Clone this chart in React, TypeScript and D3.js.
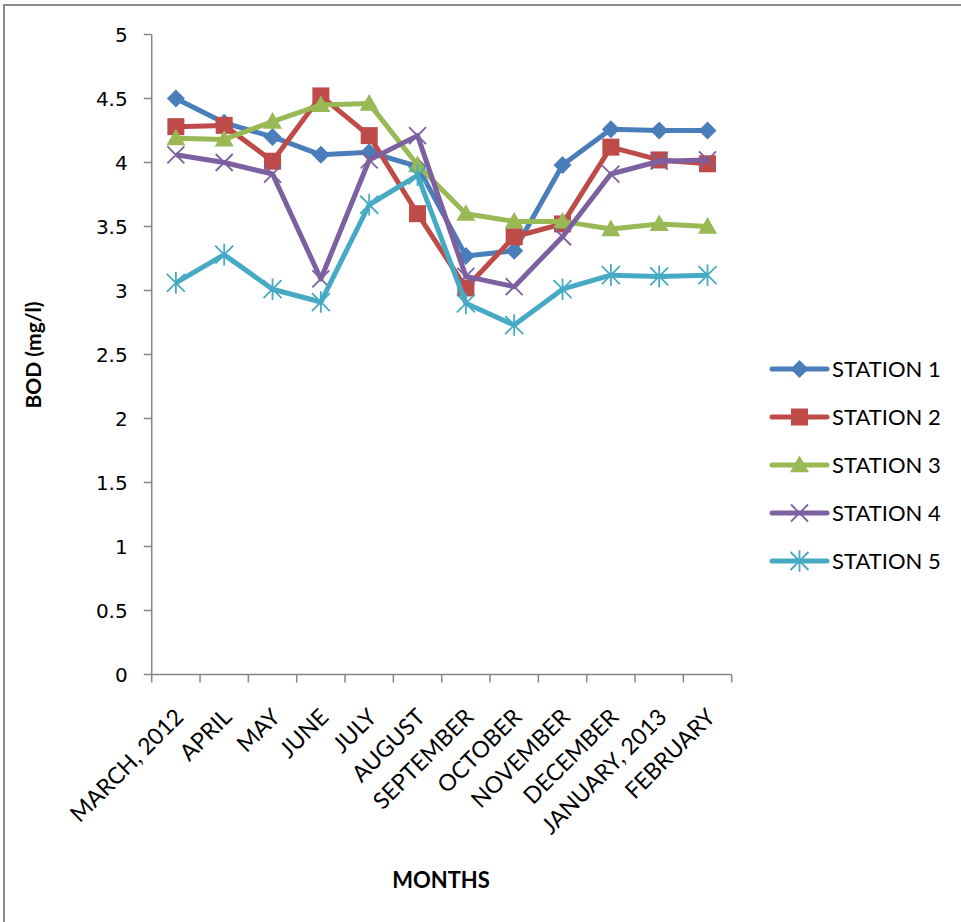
import React from "react";
import * as d3 from "d3";

const months = [
  "MARCH, 2012", "APRIL", "MAY", "JUNE", "JULY", "AUGUST",
  "SEPTEMBER", "OCTOBER", "NOVEMBER", "DECEMBER", "JANUARY, 2013", "FEBRUARY",
];
const station1 = [4.5, 4.31, 4.2, 4.06, 4.08, 3.97, 3.27, 3.31, 3.98, 4.26, 4.25, 4.25];
const station2 = [4.28, 4.29, 4.01, 4.52, 4.21, 3.6, 3.02, 3.42, 3.52, 4.12, 4.02, 3.99];
const station3 = [4.19, 4.18, 4.32, 4.45, 4.46, 3.98, 3.6, 3.54, 3.54, 3.48, 3.52, 3.5];
const station4 = [4.06, 4.0, 3.91, 3.09, 4.02, 4.21, 3.11, 3.03, 3.42, 3.91, 4.01, 4.02];
const station5 = [3.06, 3.28, 3.01, 2.91, 3.67, 3.9, 2.9, 2.73, 3.01, 3.12, 3.11, 3.12];
const seriesNames = ["STATION 1", "STATION 2", "STATION 3", "STATION 4", "STATION 5"];
const yTicks = [0, 0.5, 1, 1.5, 2, 2.5, 3, 3.5, 4, 4.5, 5];

const colors = ["#4A7EBB", "#BE4B48", "#98B954", "#7D60A0", "#46AAC5"];
const markerTypes = ["diamond", "square", "triangle", "x", "star"];

const W = 961;
const H = 922;
const plot = { left: 151.7, right: 731.7, top: 34.5, bottom: 674.5 };
const labelFont = "Lato, 'Open Sans', sans-serif";

function Marker({ type, x, y, color, s = 1 }: { type: string; x: number; y: number; color: string; s?: number }) {
  if (type === "diamond") {
    const r = 9 * s;
    return <path d={`M${x},${y - r}L${x + r},${y}L${x},${y + r}L${x - r},${y}Z`} fill={color} />;
  }
  if (type === "square") {
    const r = 8.5 * s;
    return <rect x={x - r} y={y - r} width={2 * r} height={2 * r} fill={color} />;
  }
  if (type === "triangle") {
    const r = 9.5 * s;
    return <path d={`M${x},${y - r}L${x + r},${y + r * 0.75}L${x - r},${y + r * 0.75}Z`} fill={color} />;
  }
  if (type === "x") {
    const r = 8.5 * s;
    return (
      <path d={`M${x - r},${y - r}L${x + r},${y + r}M${x - r},${y + r}L${x + r},${y - r}`} stroke={color} strokeWidth={1.8} fill="none" />
    );
  }
  const r = 9 * s;
  return (
    <path
      d={`M${x - r},${y - r}L${x + r},${y + r}M${x - r},${y + r}L${x + r},${y - r}M${x},${y - r * 1.2}L${x},${y + r * 1.2}`}
      stroke={color}
      strokeWidth={1.8}
      fill="none"
    />
  );
}

export default function App() {
  const data = [station1, station2, station3, station4, station5];
  const x = d3.scaleBand<string>().domain(months).range([plot.left, plot.right]).padding(0);
  const y = d3.scaleLinear().domain([0, 5]).range([plot.bottom, plot.top]);
  const cx = (m: string) => (x(m) as number) + x.bandwidth() / 2;
  const line = d3
    .line<number>()
    .x((_, i) => cx(months[i]))
    .y((v) => y(v));

  const axisColor = "#868686";
  const boundaries = d3.range(months.length + 1).map((i) => plot.left + i * x.bandwidth());

  const legendX = 772;
  const legendY0 = 369;
  const legendStep = 48;

  return (
    <svg width={W} height={H} style={{ position: "absolute", left: 0, top: 0, background: "#fff" }}>
      <rect x={0} y={0} width={W} height={H} fill="#fff" />
      <path d={`M4,${H + 10}L4,5L${W + 10},5`} stroke="#8c8c8c" strokeWidth={2} fill="none" />

      {/* y axis */}
      <line x1={plot.left} x2={plot.left} y1={plot.top} y2={plot.bottom} stroke={axisColor} strokeWidth={1.5} />
      {yTicks.map((t) => (
        <g key={t}>
          <line x1={plot.left - 8} x2={plot.left} y1={y(t)} y2={y(t)} stroke={axisColor} strokeWidth={1.5} />
          <text
            x={plot.left - 24}
            y={y(t)}
            dy="0.36em"
            textAnchor="end"
            fontFamily="'DejaVu Sans', sans-serif"
            fontSize={20}
            fill="#000"
          >
            {t}
          </text>
        </g>
      ))}

      {/* x axis */}
      <line x1={plot.left} x2={plot.right} y1={plot.bottom} y2={plot.bottom} stroke={axisColor} strokeWidth={1.5} />
      {boundaries.map((b, i) => (
        <line key={i} x1={b} x2={b} y1={plot.bottom} y2={plot.bottom + 8} stroke={axisColor} strokeWidth={1.5} />
      ))}
      {months.map((m) => (
        <text
          key={m}
          transform={`translate(${cx(m) + 9},${plot.bottom + 44}) rotate(-45)`}
          textAnchor="end"
          fontFamily={labelFont}
          fontSize={23}
          fill="#000"
        >
          {m}
        </text>
      ))}

      {/* series */}
      {data.map((s, si) => (
        <g key={si}>
          <path d={line(s) as string} stroke={colors[si]} strokeWidth={5} fill="none" strokeLinejoin="round" />
          {s.map((v, i) => (
            <Marker key={i} type={markerTypes[si]} x={cx(months[i])} y={y(v)} color={colors[si]} />
          ))}
        </g>
      ))}

      {/* axis titles */}
      <text x={441} y={888} textAnchor="middle" fontFamily={labelFont} fontWeight="bold" fontSize={22} fill="#000">
        MONTHS
      </text>
      <text
        transform={`translate(41,355) rotate(-90)`}
        textAnchor="middle"
        fontFamily={labelFont}
        fontWeight="bold"
        fontSize={21}
        fill="#000"
      >
        BOD (mg/l)
      </text>

      {/* legend */}
      {seriesNames.map((n, i) => {
        const ly = legendY0 + i * legendStep;
        return (
          <g key={n}>
            <line x1={legendX} x2={legendX + 55} y1={ly} y2={ly} stroke={colors[i]} strokeWidth={5} strokeLinecap="round" />
            <Marker type={markerTypes[i]} x={legendX + 27.5} y={ly} color={colors[i]} />
            <text x={legendX + 60} y={ly} dy="0.36em" fontFamily={labelFont} fontSize={22} fill="#000">
              {n}
            </text>
          </g>
        );
      })}
    </svg>
  );
}
